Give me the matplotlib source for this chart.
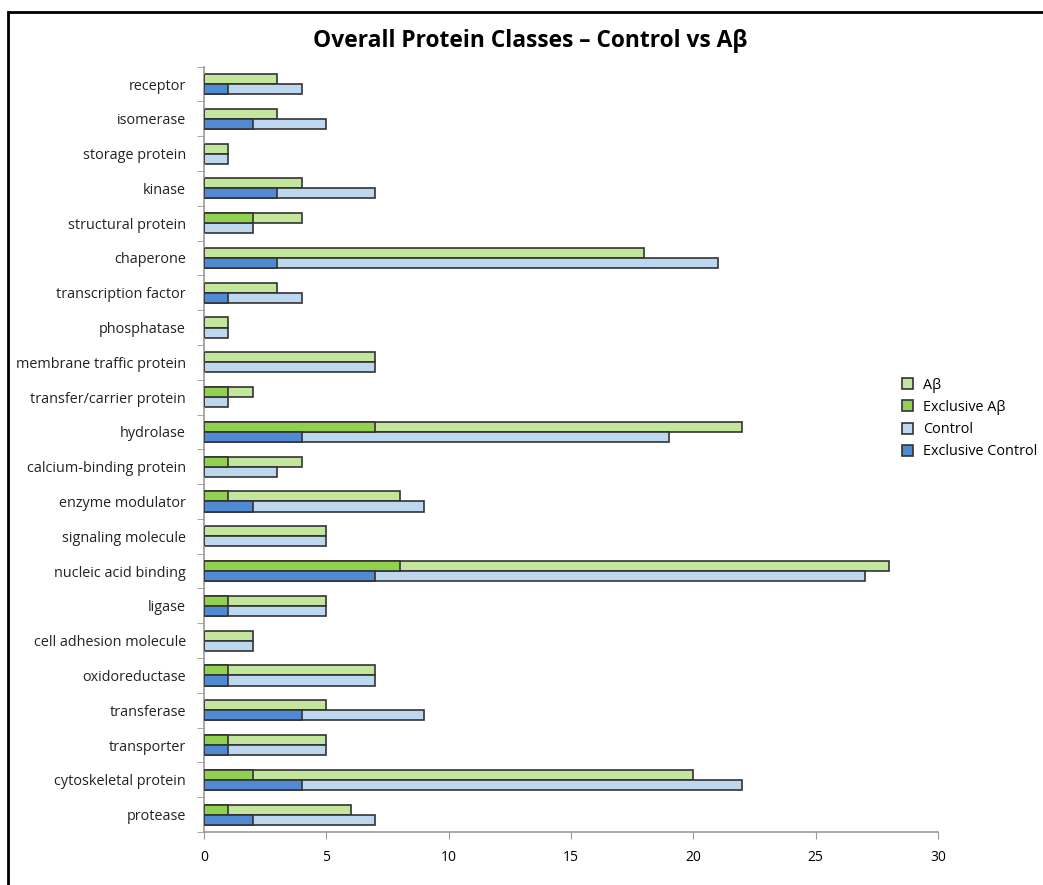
import matplotlib
matplotlib.use("Agg")
import matplotlib.pyplot as plt
import matplotlib.patches as mpatches
import numpy as np

categories = ['receptor', 'isomerase', 'storage protein', 'kinase', 'structural protein',
              'chaperone', 'transcription factor', 'phosphatase', 'membrane traffic protein',
              'transfer/carrier protein', 'hydrolase', 'calcium-binding protein',
              'enzyme modulator', 'signaling molecule', 'nucleic acid binding', 'ligase',
              'cell adhesion molecule', 'oxidoreductase', 'transferase', 'transporter',
              'cytoskeletal protein', 'protease']
abeta = [3, 3, 1, 4, 4, 18, 3, 1, 7, 2, 22, 4, 8, 5, 28, 5, 2, 7, 5, 5, 20, 6]
excl_abeta = [0, 0, 0, 0, 2, 0, 0, 0, 0, 1, 7, 1, 1, 0, 8, 1, 0, 1, 0, 1, 2, 1]
control = [4, 5, 1, 7, 2, 21, 4, 1, 7, 1, 19, 3, 9, 5, 27, 5, 2, 7, 9, 5, 22, 7]
excl_control = [1, 2, 0, 3, 0, 3, 1, 0, 0, 0, 4, 0, 2, 0, 7, 1, 0, 1, 4, 1, 4, 2]

c_ab = '#C4E59C'
c_exab = '#92D050'
c_ctl = '#BDD7EE'
c_exctl = '#4F8AD3'
edge = '#333333'

plt.rcParams['font.family'] = ['Open Sans', 'DejaVu Sans']

fig = plt.figure(figsize=(10.43, 8.85), dpi=100)
ax = fig.add_axes([0.1956, 0.0599, 0.7037, 0.8648])

n = len(categories)
y = np.arange(n)[::-1]
h = 0.29
off = 0.145

ax.barh(y + off, abeta, height=h, color=c_ab, edgecolor=edge, linewidth=1.2, label='Aβ', zorder=2)
ax.barh(y + off, excl_abeta, height=h, color=c_exab, edgecolor=edge, linewidth=1.2, label='Exclusive Aβ', zorder=3)
ax.barh(y - off, control, height=h, color=c_ctl, edgecolor=edge, linewidth=1.2, label='Control', zorder=2)
ax.barh(y - off, excl_control, height=h, color=c_exctl, edgecolor=edge, linewidth=1.2, label='Exclusive Control', zorder=3)

ax.set_xlim(0, 30)
ax.set_ylim(-0.5, n - 0.5)
ax.set_xticks(range(0, 31, 5))
ax.set_yticks(y)
ax.set_yticklabels(categories, fontsize=10.4, color='#222222')
ax.set_yticks(np.arange(-0.5, n, 1), minor=True)
ax.tick_params(axis='y', which='major', length=0, pad=13)
ax.tick_params(axis='y', which='minor', length=5, color='#999999')
ax.tick_params(axis='x', length=5, color='#999999', labelsize=10, pad=8)
for s in ['top', 'right']:
    ax.spines[s].set_visible(False)
for s in ['left', 'bottom']:
    ax.spines[s].set_color('#999999')
    ax.spines[s].set_linewidth(1.2)

fig.suptitle('Overall Protein Classes – Control vs Aβ', x=0.508, y=0.967, fontsize=16.4, fontweight='bold')

handles, labels = ax.get_legend_handles_labels()
fig.legend(handles, labels, loc='upper left', bbox_to_anchor=(0.852, 0.588), frameon=False,
           fontsize=10.4, handlelength=0.8, handleheight=0.8, labelspacing=0.5, handletextpad=0.7)

frame = mpatches.Rectangle((8 / 1043, -0.05), 1.1, 1 - 12 / 885 + 0.05, transform=fig.transFigure,
                           fill=False, edgecolor='black', linewidth=2, clip_on=False)
fig.patches.append(frame)

fig.savefig('out.png', dpi=100)
